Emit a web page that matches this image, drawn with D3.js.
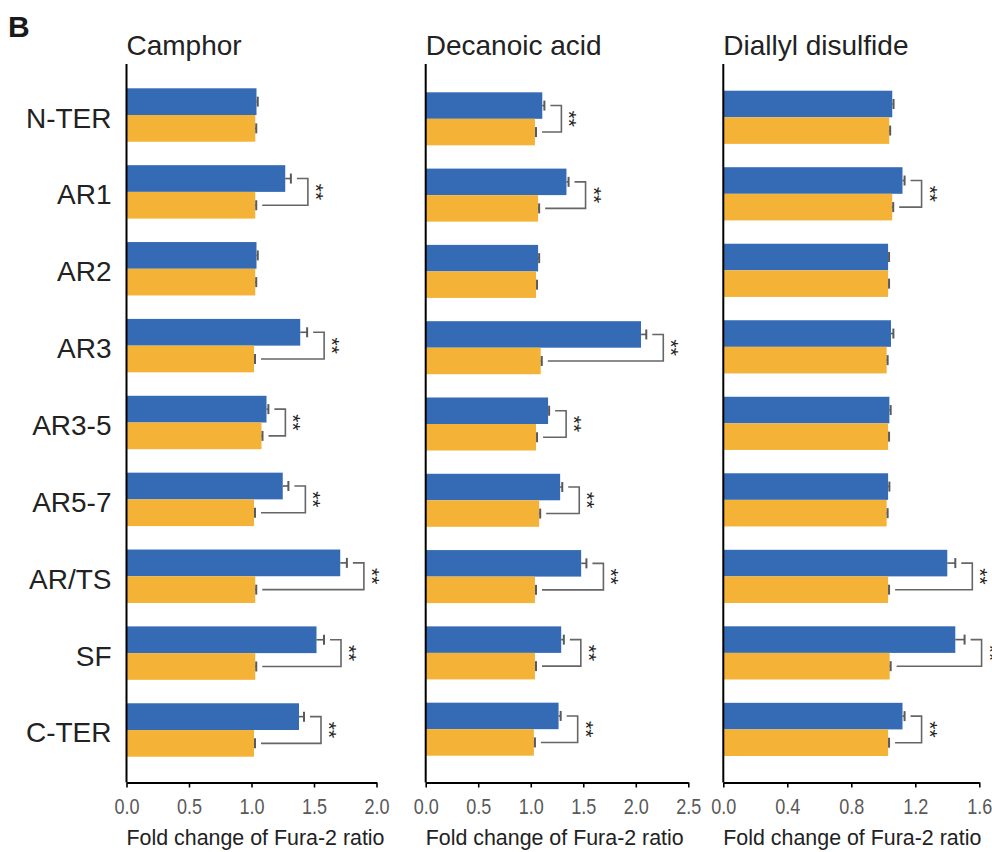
<!DOCTYPE html>
<html>
<head>
<meta charset="utf-8">
<script src="https://cdn.jsdelivr.net/npm/d3@7"></script>
<style>
  html, body { margin: 0; padding: 0; background: #fff; }
  svg { display: block; font-family: "Liberation Sans", Arial, sans-serif; }
</style>
</head>
<body>
<svg id="chart" width="992" height="852"></svg>
<script>
// Constructs (rows) and odorant compounds (panels)
const categories = ["N-TER", "AR1", "AR2", "AR3", "AR3-5", "AR5-7", "AR/TS", "SF", "C-TER"];
const compounds = ["Camphor", "Decanoic acid", "Diallyl disulfide"];

// Fold change of Fura-2 ratio, top (blue) bar per construct
const camphorBlue      = [1.04, 1.27, 1.04, 1.39, 1.12, 1.25, 1.71, 1.52, 1.38];
const camphorBlueErr   = [0.01, 0.045, 0.01, 0.055, 0.015, 0.045, 0.053, 0.06, 0.04];
const camphorOrange    = [1.03, 1.03, 1.03, 1.02, 1.08, 1.02, 1.03, 1.03, 1.02];
const camphorOrangeErr = [0.008, 0.008, 0.008, 0.008, 0.008, 0.008, 0.008, 0.008, 0.008];
const camphorSig       = [false, true, false, true, true, true, true, true, true];

const decanoicBlue      = [1.11, 1.34, 1.07, 2.05, 1.165, 1.28, 1.48, 1.29, 1.265];
const decanoicBlueErr   = [0.02, 0.02, 0.01, 0.05, 0.01, 0.02, 0.05, 0.025, 0.02];
const decanoicOrange    = [1.04, 1.07, 1.05, 1.095, 1.05, 1.08, 1.04, 1.04, 1.03];
const decanoicOrangeErr = [0.01, 0.01, 0.01, 0.01, 0.01, 0.01, 0.01, 0.01, 0.01];
const decanoicSig       = [true, true, false, true, true, true, true, true, true];

const diallylBlue      = [1.056, 1.12, 1.03, 1.048, 1.038, 1.03, 1.40, 1.45, 1.12];
const diallylBlueErr   = [0.008, 0.013, 0.006, 0.015, 0.008, 0.008, 0.05, 0.058, 0.013];
const diallylOrange    = [1.037, 1.056, 1.03, 1.021, 1.03, 1.021, 1.03, 1.04, 1.03];
const diallylOrangeErr = [0.006, 0.006, 0.006, 0.006, 0.006, 0.006, 0.006, 0.006, 0.006];
const diallylSig       = [false, true, false, false, false, false, true, true, true];

// Axis ticks per panel
const camphorTicks  = [0, 0.5, 1.0, 1.5, 2.0];
const decanoicTicks = [0, 0.5, 1.0, 1.5, 2.0, 2.5];
const diallylTicks  = [0, 0.4, 0.8, 1.2, 1.6];

const panelData = [
  { title: compounds[0], blue: camphorBlue, blueErr: camphorBlueErr, orange: camphorOrange, orangeErr: camphorOrangeErr, sig: camphorSig, ticks: camphorTicks },
  { title: compounds[1], blue: decanoicBlue, blueErr: decanoicBlueErr, orange: decanoicOrange, orangeErr: decanoicOrangeErr, sig: decanoicSig, ticks: decanoicTicks },
  { title: compounds[2], blue: diallylBlue, blueErr: diallylBlueErr, orange: diallylOrange, orangeErr: diallylOrangeErr, sig: diallylSig, ticks: diallylTicks }
];

// Panel geometry
const layout = [
  { x0: 126.5, x1: 376.5, top: 88.3, bottom: 756.7 },
  { x0: 425.7, x1: 688.3, top: 92.3, bottom: 755.7 },
  { x0: 723.3, x1: 979.3, top: 90.7, bottom: 756.0 }
];
const axisTop = 64, axisY = 782.5;
const BLUE = "#356bb5", ORANGE = "#f4b237", ERR = "#5a5a5a", BRACKET = "#666666";

const svg = d3.select("#chart");

// Panel letter
svg.append("text")
  .attr("x", 8).attr("y", 37)
  .attr("font-size", 30).attr("font-weight", "bold").attr("fill", "#1a1a1a")
  .text("B");

panelData.forEach((p, pi) => {
  const L = layout[pi];
  const x = d3.scaleLinear()
    .domain([0, p.ticks[p.ticks.length - 1]])
    .range([L.x0, L.x1]);
  const y = d3.scaleBand()
    .domain(categories)
    .range([L.top, L.bottom])
    .paddingInner(0.305)
    .paddingOuter(0);
  const ySub = d3.scaleBand()
    .domain(["blue", "orange"])
    .range([0, y.bandwidth()]);

  const g = svg.append("g");

  // Title
  g.append("text")
    .attr("x", x(0)).attr("y", 55)
    .attr("font-size", 28).attr("fill", "#222")
    .text(p.title);

  // Category labels (first panel only)
  if (pi === 0) {
    g.selectAll("text.cat")
      .data(categories)
      .join("text")
      .attr("class", "cat")
      .attr("x", x(0) - 15)
      .attr("y", d => y(d) + y.bandwidth() / 2 + 3)
      .attr("text-anchor", "end")
      .attr("dominant-baseline", "central")
      .attr("font-size", 28).attr("fill", "#222")
      .text(d => d);
  }

  const rows = categories.map((c, i) => ({
    cat: c, b: p.blue[i], be: p.blueErr[i], o: p.orange[i], oe: p.orangeErr[i], sig: p.sig[i]
  }));

  // Bars
  g.selectAll("rect.blue").data(rows).join("rect")
    .attr("x", x(0))
    .attr("y", d => y(d.cat) + ySub("blue"))
    .attr("width", d => x(d.b) - x(0))
    .attr("height", ySub.bandwidth())
    .attr("fill", BLUE);
  g.selectAll("rect.orange").data(rows).join("rect")
    .attr("x", x(0))
    .attr("y", d => y(d.cat) + ySub("orange"))
    .attr("width", d => x(d.o) - x(0))
    .attr("height", ySub.bandwidth())
    .attr("fill", ORANGE);

  // Error bars (positive direction with cap)
  const errs = [];
  rows.forEach(d => {
    errs.push({ v: d.b, e: d.be, cy: y(d.cat) + ySub("blue") + ySub.bandwidth() / 2 });
    errs.push({ v: d.o, e: d.oe, cy: y(d.cat) + ySub("orange") + ySub.bandwidth() / 2 });
  });
  g.selectAll("line.err").data(errs).join("line")
    .attr("x1", d => x(d.v)).attr("x2", d => x(d.v + d.e))
    .attr("y1", d => d.cy).attr("y2", d => d.cy)
    .attr("stroke", ERR).attr("stroke-width", 1.6);
  g.selectAll("line.cap").data(errs).join("line")
    .attr("x1", d => x(d.v + d.e)).attr("x2", d => x(d.v + d.e))
    .attr("y1", d => d.cy - 5).attr("y2", d => d.cy + 5)
    .attr("stroke", ERR).attr("stroke-width", 2);

  // Significance brackets with vertical "**"
  const sigRows = rows.filter(d => d.sig);
  sigRows.forEach(d => {
    const yb = y(d.cat) + ySub("blue") + ySub.bandwidth() / 2;
    const yo = y(d.cat) + ySub("orange") + ySub.bandwidth() / 2;
    const xbEnd = x(d.b + d.be);
    const xoEnd = x(d.o + d.oe);
    const bx = Math.max(xbEnd, xoEnd) + 17;
    g.append("path")
      .attr("d", `M${xbEnd + 6},${yb}H${bx}V${yo}H${xoEnd + 6}`)
      .attr("fill", "none")
      .attr("stroke", BRACKET).attr("stroke-width", 1.6);
    g.append("text")
      .attr("transform", `translate(${bx + 1},${(yb + yo) / 2}) rotate(90)`)
      .attr("text-anchor", "middle")
      .attr("font-size", 21).attr("fill", "#222")
      .text("**");
  });

  // Vertical axis line
  g.append("line")
    .attr("x1", x(0)).attr("x2", x(0))
    .attr("y1", axisTop).attr("y2", axisY)
    .attr("stroke", "#000").attr("stroke-width", 2);

  // Bottom axis
  const ax = g.append("g")
    .attr("transform", `translate(0,${axisY})`)
    .call(d3.axisBottom(x).tickValues(p.ticks).tickFormat(d3.format(".1f")).tickSize(5).tickSizeOuter(0).tickPadding(11));
  ax.select(".domain").attr("stroke", "#000").attr("stroke-width", 2);
  ax.selectAll(".tick line").attr("stroke", "#000").attr("stroke-width", 1.6);
  ax.selectAll(".tick text")
    .attr("font-size", 22).attr("fill", "#595959")
    .attr("transform", "scale(0.82,1)");

  // Axis title
  g.append("text")
    .attr("x", x(0)).attr("y", 845)
    .attr("font-size", 21.4).attr("fill", "#222")
    .text("Fold change of Fura-2 ratio");
});
</script>
</body>
</html>
